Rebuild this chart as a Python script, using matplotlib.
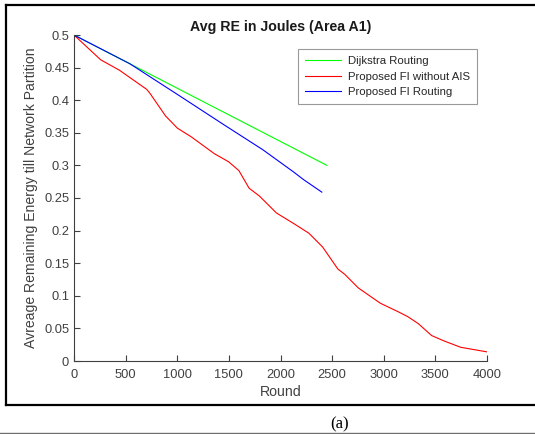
import matplotlib
matplotlib.use('Agg')
import matplotlib.pyplot as plt
from matplotlib.lines import Line2D

plt.rcParams['font.family'] = ['Liberation Sans', 'DejaVu Sans']

# data
dijkstra_rounds = [0, 2450]
dijkstra_re = [0.5, 0.30]

fi_rounds = [0, 540, 1000, 1465, 1829, 2126, 2225, 2400]
fi_re = [0.5, 0.456, 0.409, 0.361, 0.324, 0.290, 0.278, 0.259]

noais_rounds = [0, 258, 440, 705, 738, 886, 1002, 1134, 1359, 1498, 1597, 1696,
                1796, 1961, 2126, 2275, 2407, 2556, 2622, 2754, 2968, 3134,
                3233, 3333, 3464, 3580, 3746, 4000]
noais_re = [0.5, 0.462, 0.446, 0.4165, 0.410, 0.376, 0.357, 0.344, 0.318, 0.3055,
            0.292, 0.265, 0.253, 0.227, 0.211, 0.196, 0.175, 0.141, 0.133, 0.112,
            0.0885, 0.076, 0.068, 0.0575, 0.039, 0.031, 0.021, 0.014]

xticks = [0, 500, 1000, 1500, 2000, 2500, 3000, 3500, 4000]
yticks = [0, 0.05, 0.1, 0.15, 0.2, 0.25, 0.3, 0.35, 0.4, 0.45, 0.5]
ytick_labels = ['0', '0.05', '0.1', '0.15', '0.2', '0.25', '0.3', '0.35', '0.4', '0.45', '0.5']

W, H = 535, 434
fig = plt.figure(figsize=(W / 100, H / 100), dpi=100)
ax = fig.add_axes([74 / W, (H - 361) / H, (487 - 74) / W, (361 - 35) / H])

grey = '#404040'
ax.plot(dijkstra_rounds, dijkstra_re, color='#00ff00', lw=0.8, label='Dijkstra Routing')
ax.plot(noais_rounds, noais_re, color='#ff0000', lw=0.8, label='Proposed FI without AIS')
ax.plot(fi_rounds, fi_re, color='#0000ff', lw=0.8, label='Proposed FI Routing')

ax.set_xlim(0, 4000)
ax.set_ylim(0, 0.5)
ax.set_xticks(xticks)
ax.set_yticks(yticks)
ax.set_yticklabels(ytick_labels)
ax.tick_params(direction='in', length=4, width=0.8, colors=grey, labelsize=9.3)
ax.tick_params(axis='x', pad=6)
ax.tick_params(axis='y', pad=3.5)
for s in ['top', 'right']:
    ax.spines[s].set_visible(False)
for s in ['left', 'bottom']:
    ax.spines[s].set_color(grey)
    ax.spines[s].set_linewidth(0.8)

ax.set_xlabel('Round', fontsize=10.2, color=grey, labelpad=3)
ax.set_ylabel('Avreage Remaining Energy till Network Partition', fontsize=10.1, color=grey, labelpad=4)
ax.set_title('Avg RE in Joules (Area A1)', fontsize=10.2, fontweight='bold', color='#1a1a1a', pad=3)

leg = ax.legend(loc='upper left', bbox_to_anchor=((298 - 74) / 413, (361 - 49) / 326),
                fontsize=8.2, frameon=True, fancybox=False, handlelength=3.1,
                handletextpad=0.6, labelspacing=0.45, borderpad=0.65, borderaxespad=0)
leg.get_frame().set_edgecolor('#808080')
leg.get_frame().set_linewidth(0.8)
for t in leg.get_texts():
    t.set_color('#262626')

# outer frame and caption
fx = lambda px: px / W
fy = lambda py: 1 - py / H
fig.add_artist(Line2D([fx(6), fx(6)], [fy(5), fy(405)], color='black', lw=1.6))
fig.add_artist(Line2D([fx(6), 1], [fy(5), fy(5)], color='black', lw=1.6))
fig.add_artist(Line2D([fx(6), 1], [fy(405), fy(405)], color='black', lw=1.6))
fig.add_artist(Line2D([0, 1], [fy(432.5), fy(432.5)], color='#707070', lw=1.0))
fig.text(fx(340), fy(424), '(a)', family='Liberation Serif', fontsize=12,
         ha='center', va='center', color='black')

fig.savefig('out.png', dpi=100)
